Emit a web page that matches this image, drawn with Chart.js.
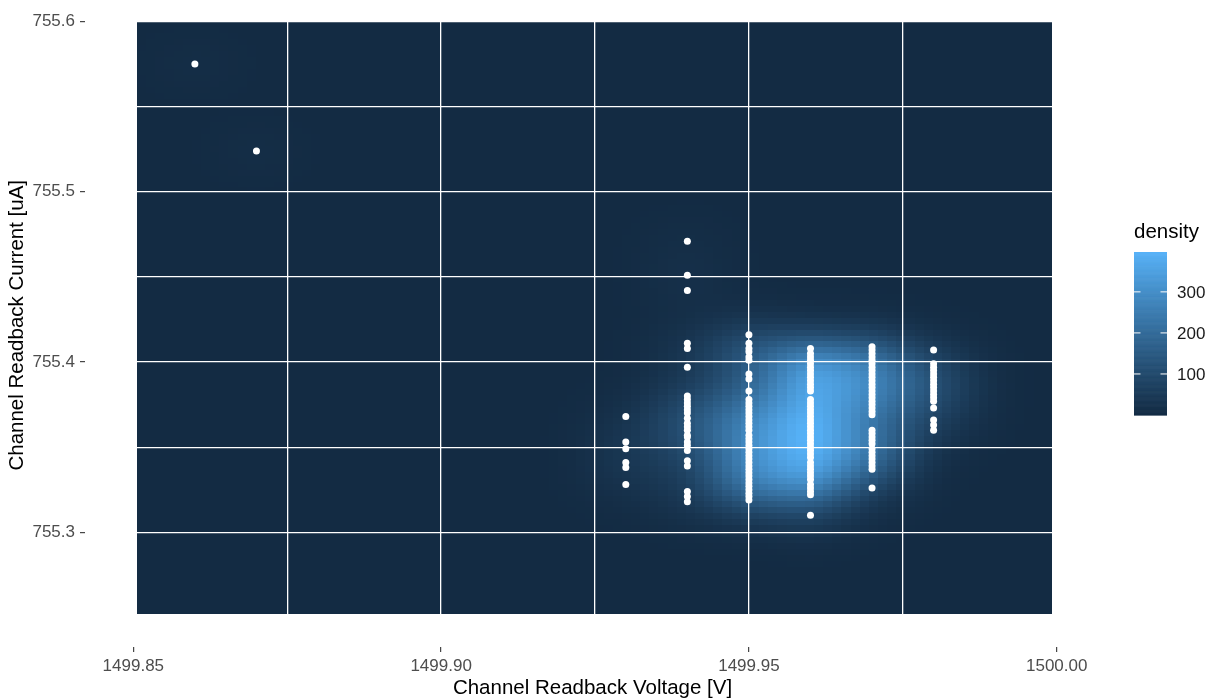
<!DOCTYPE html>
<html>
<head>
<meta charset="utf-8">
<script src="https://cdn.jsdelivr.net/npm/chart.js@4.4.1/dist/chart.umd.min.js"></script>
<style>
  html, body { margin: 0; padding: 0; background: #fff; }
</style>
</head>
<body>
<canvas id="myChart" width="1212" height="700"></canvas>
<script>
// readings, grouped by voltage column
var voltageLevels = [1499.86, 1499.87, 1499.93, 1499.94, 1499.95, 1499.96, 1499.97, 1499.98];
var cur86 = [755.575];
var cur87 = [755.524];
var cur93 = [755.368, 755.353, 755.349, 755.341, 755.338, 755.328];
var cur94 = [755.471, 755.451, 755.442, 755.411, 755.408, 755.397, 755.380, 755.378, 755.376, 755.374,
             755.372, 755.370, 755.367, 755.364, 755.362, 755.360, 755.357, 755.356, 755.353, 755.351,
             755.348, 755.342, 755.339, 755.324, 755.321, 755.318];
var cur95 = [755.416, 755.411, 755.408, 755.406, 755.403, 755.401, 755.393, 755.390, 755.383, 755.378,
             755.376, 755.374, 755.372, 755.370, 755.368, 755.366, 755.364, 755.362, 755.360, 755.357,
             755.355, 755.353, 755.351, 755.349, 755.347, 755.345, 755.343, 755.341, 755.339, 755.337,
             755.335, 755.333, 755.331, 755.329, 755.327, 755.325, 755.323, 755.321, 755.319];
var cur96 = [755.408, 755.405, 755.403, 755.401, 755.399, 755.397, 755.395, 755.393, 755.391, 755.389,
             755.387, 755.385, 755.383, 755.378, 755.376, 755.374, 755.372, 755.370, 755.368, 755.366,
             755.364, 755.362, 755.360, 755.358, 755.356, 755.354, 755.352, 755.350, 755.348, 755.346,
             755.344, 755.341, 755.339, 755.337, 755.335, 755.333, 755.331, 755.328, 755.326, 755.324,
             755.322, 755.310];
var cur97 = [755.409, 755.407, 755.405, 755.403, 755.401, 755.399, 755.397, 755.395, 755.393, 755.391,
             755.389, 755.387, 755.385, 755.383, 755.381, 755.379, 755.377, 755.375, 755.373, 755.371,
             755.369, 755.360, 755.358, 755.356, 755.354, 755.352, 755.349, 755.347, 755.345, 755.343,
             755.341, 755.339, 755.337, 755.326];
var cur98 = [755.407, 755.399, 755.397, 755.395, 755.393, 755.391, 755.389, 755.387, 755.385, 755.383,
             755.381, 755.379, 755.377, 755.373, 755.366, 755.363, 755.360];
var currentsByLevel = [cur86, cur87, cur93, cur94, cur95, cur96, cur97, cur98];
// overplotted readings: estimated times each visible reading repeats (from the density peak)
var repeatsByLevel = [1, 1, 1, 1, 2, 3, 2, 1];

var xTicks = [1499.85, 1499.875, 1499.90, 1499.925, 1499.95, 1499.975, 1500.00];
var xTickLabels = ['1499.85', '', '1499.90', '', '1499.95', '', '1500.00'];
var yTicks = [755.25, 755.30, 755.35, 755.40, 755.45, 755.50, 755.55, 755.60];
var yTickLabels = ['', '755.3', '', '755.4', '', '755.5', '', '755.6'];
var densityBreaks = [100, 200, 300];

// density grid extent (tile edges), size and kernel sd (V, uA)
var gridX = [1499.8506, 1499.9992];
var gridY = [755.252, 755.600];
var gridN = 100;
var hx = 0.0055, hy = 0.0125;

var points = [];            // drawn marks
var kdeX = [], kdeY = [];   // readings incl. repeats
voltageLevels.forEach(function (v, i) {
    currentsByLevel[i].forEach(function (c) {
        points.push({x: v, y: c});
        for (var r = 0; r < repeatsByLevel[i]; r++) { kdeX.push(v); kdeY.push(c); }
    });
});

// --- 2d gaussian kernel density on a grid (like MASS::kde2d) ---
var dxTile = (gridX[1] - gridX[0]) / gridN, dyTile = (gridY[1] - gridY[0]) / gridN;
var dens = [], zmin = Infinity, zmax = -Infinity;
for (var j = 0; j < gridN; j++) {
    var gy = gridY[0] + (j + 0.5) * dyTile;
    var row = [];
    for (var i = 0; i < gridN; i++) {
        var gx = gridX[0] + (i + 0.5) * dxTile, s = 0;
        for (var k = 0; k < kdeX.length; k++) {
            var ax = (gx - kdeX[k]) / hx, ay = (gy - kdeY[k]) / hy;
            s += Math.exp(-0.5 * (ax * ax + ay * ay));
        }
        var z = s / (2 * Math.PI * kdeX.length * hx * hy);
        row.push(z);
        if (z < zmin) zmin = z;
        if (z > zmax) zmax = z;
    }
    dens.push(row);
}

// --- colour scale: Lab gradient #132B43 -> #56B1F7 ---
function toLab(r, g, b) {
    function lin(c) { c /= 255; return c <= 0.04045 ? c / 12.92 : Math.pow((c + 0.055) / 1.055, 2.4); }
    var R = lin(r), G = lin(g), B = lin(b);
    var X = (0.4124564 * R + 0.3575761 * G + 0.1804375 * B) / 0.95047;
    var Y = 0.2126729 * R + 0.7151522 * G + 0.0721750 * B;
    var Z = (0.0193339 * R + 0.1191920 * G + 0.9503041 * B) / 1.08883;
    function f(t) { return t > 0.008856 ? Math.cbrt(t) : 7.787 * t + 16 / 116; }
    var fx = f(X), fy = f(Y), fz = f(Z);
    return [116 * fy - 16, 500 * (fx - fy), 200 * (fy - fz)];
}
function fromLab(L, a, b) {
    var fy = (L + 16) / 116, fx = fy + a / 500, fz = fy - b / 200;
    function finv(t) { var t3 = t * t * t; return t3 > 0.008856 ? t3 : (t - 16 / 116) / 7.787; }
    var X = finv(fx) * 0.95047, Y = finv(fy), Z = finv(fz) * 1.08883;
    var R = 3.2404542 * X - 1.5371385 * Y - 0.4985314 * Z;
    var G = -0.9692660 * X + 1.8760108 * Y + 0.0415560 * Z;
    var B = 0.0556434 * X - 0.2040259 * Y + 1.0572252 * Z;
    function gam(c) {
        c = c <= 0.0031308 ? 12.92 * c : 1.055 * Math.pow(c, 1 / 2.4) - 0.055;
        return Math.max(0, Math.min(255, Math.round(c * 255)));
    }
    return [gam(R), gam(G), gam(B)];
}
var labLow = toLab(0x13, 0x2B, 0x43), labHigh = toLab(0x56, 0xB1, 0xF7);
function fillColour(z) {
    var t = (z - zmin) / (zmax - zmin);
    return fromLab(labLow[0] + t * (labHigh[0] - labLow[0]),
                   labLow[1] + t * (labHigh[1] - labLow[1]),
                   labLow[2] + t * (labHigh[2] - labLow[2]));
}

// raster into a small offscreen canvas, row 0 = top
var tileCanvas = document.createElement('canvas');
tileCanvas.width = gridN; tileCanvas.height = gridN;
var tctx = tileCanvas.getContext('2d');
var img = tctx.createImageData(gridN, gridN);
for (var r = 0; r < gridN; r++) {
    for (var c = 0; c < gridN; c++) {
        var col = fillColour(dens[gridN - 1 - r][c]);
        var o = (r * gridN + c) * 4;
        img.data[o] = col[0]; img.data[o + 1] = col[1]; img.data[o + 2] = col[2]; img.data[o + 3] = 255;
    }
}
tctx.putImageData(img, 0, 0);

var rasterPlugin = {
    id: 'densityRaster',
    beforeDraw: function (chart) {
        var ctx = chart.ctx, sx = chart.scales.x, sy = chart.scales.y;
        var left = sx.getPixelForValue(gridX[0]), right = sx.getPixelForValue(gridX[1]);
        var top = sy.getPixelForValue(gridY[1]), bottom = sy.getPixelForValue(gridY[0]);
        ctx.save();
        ctx.imageSmoothingEnabled = false;
        ctx.drawImage(tileCanvas, left, top, right - left, bottom - top);
        ctx.restore();
    }
};

var legendPlugin = {
    id: 'densityLegend',
    afterDraw: function (chart) {
        var ctx = chart.ctx;
        var bx = 1134, bw = 33, btop = 252, bh = 163, nbin = 300;
        ctx.save();
        ctx.fillStyle = '#000';
        ctx.font = '20.5px "Liberation Sans", Arial, sans-serif';
        ctx.textAlign = 'left';
        ctx.textBaseline = 'middle';
        ctx.fillText('density', 1134, 232);
        for (var b = 0; b < nbin; b++) {
            var z = zmin + (b + 0.5) / nbin * (zmax - zmin);
            var cc = fillColour(z);
            var y0 = btop + bh - (b + 1) / nbin * bh;
            ctx.fillStyle = 'rgb(' + cc[0] + ',' + cc[1] + ',' + cc[2] + ')';
            ctx.fillRect(bx, y0, bw, bh / nbin + 0.6);
        }
        ctx.font = '17px "Liberation Sans", Arial, sans-serif';
        densityBreaks.forEach(function (v) {
            if (v < zmin || v > zmax) return;
            var y = btop + bh - (v - zmin) / (zmax - zmin) * bh;
            ctx.strokeStyle = '#fff';
            ctx.lineWidth = 1;
            ctx.beginPath();
            ctx.moveTo(bx, y); ctx.lineTo(bx + 6.5, y);
            ctx.moveTo(bx + bw - 6.5, y); ctx.lineTo(bx + bw, y);
            ctx.stroke();
            ctx.fillStyle = '#1a1a1a';
            ctx.fillText(String(v), 1177, y + 1);
        });
        ctx.restore();
    }
};

function noPad(scale) {
    scale.paddingTop = 0; scale.paddingBottom = 0;
    scale.paddingLeft = 0; scale.paddingRight = 0;
}

var tickFont = {family: '"Liberation Sans", Arial, sans-serif', size: 17};
var titleFont = {family: '"Liberation Sans", Arial, sans-serif', size: 20.5};

var ctx = document.getElementById('myChart').getContext('2d');
var myChart = new Chart(ctx, {
    type: 'scatter',
    data: {
        datasets: [{
            label: 'readings',
            data: points,
            backgroundColor: '#ffffff',
            borderWidth: 0,
            pointRadius: 3.5,
            pointHoverRadius: 3.5
        }]
    },
    options: {
        responsive: false,
        animation: false,
        layout: { padding: { left: 0, top: 0, right: 112, bottom: 0 } },
        plugins: {
            legend: { display: false },
            tooltip: { enabled: false }
        },
        scales: {
            x: {
                type: 'linear',
                min: 1499.84215,
                max: 1500.00703,
                afterBuildTicks: function (scale) {
                    scale.ticks = xTicks.map(function (v) { return {value: v}; });
                },
                afterFit: function (scale) { scale.height = 53; noPad(scale); },
                ticks: {
                    autoSkip: false,
                    maxRotation: 0,
                    padding: 4,
                    color: '#4D4D4D',
                    font: tickFont,
                    callback: function (value, index) { return xTickLabels[index]; }
                },
                grid: {
                    color: '#ffffff',
                    lineWidth: 1.3,
                    tickLength: 5,
                    tickWidth: 1.1,
                    tickColor: function (c) { return xTickLabels[c.index] ? '#333333' : 'rgba(0,0,0,0)'; }
                },
                border: { display: false },
                title: {
                    display: true,
                    text: 'Channel Readback Voltage [V]',
                    color: '#000',
                    font: titleFont,
                    padding: { top: 0, bottom: -1 }
                }
            },
            y: {
                type: 'linear',
                min: 755.23262,
                max: 755.6106,
                afterBuildTicks: function (scale) {
                    scale.ticks = yTicks.map(function (v) { return {value: v}; });
                },
                afterFit: function (scale) { scale.width = 85; noPad(scale); },
                ticks: {
                    autoSkip: false,
                    padding: 5,
                    color: '#4D4D4D',
                    font: tickFont,
                    callback: function (value, index) { return yTickLabels[index]; }
                },
                grid: {
                    color: '#ffffff',
                    lineWidth: 1.3,
                    tickLength: 5,
                    tickWidth: 1.1,
                    tickColor: function (c) { return yTickLabels[c.index] ? '#333333' : 'rgba(0,0,0,0)'; }
                },
                border: { display: false },
                title: {
                    display: true,
                    text: 'Channel Readback Current [uA]',
                    color: '#000',
                    font: titleFont,
                    padding: { top: 5, bottom: 0 }
                }
            }
        }
    },
    plugins: [rasterPlugin, legendPlugin]
});
</script>
</body>
</html>
